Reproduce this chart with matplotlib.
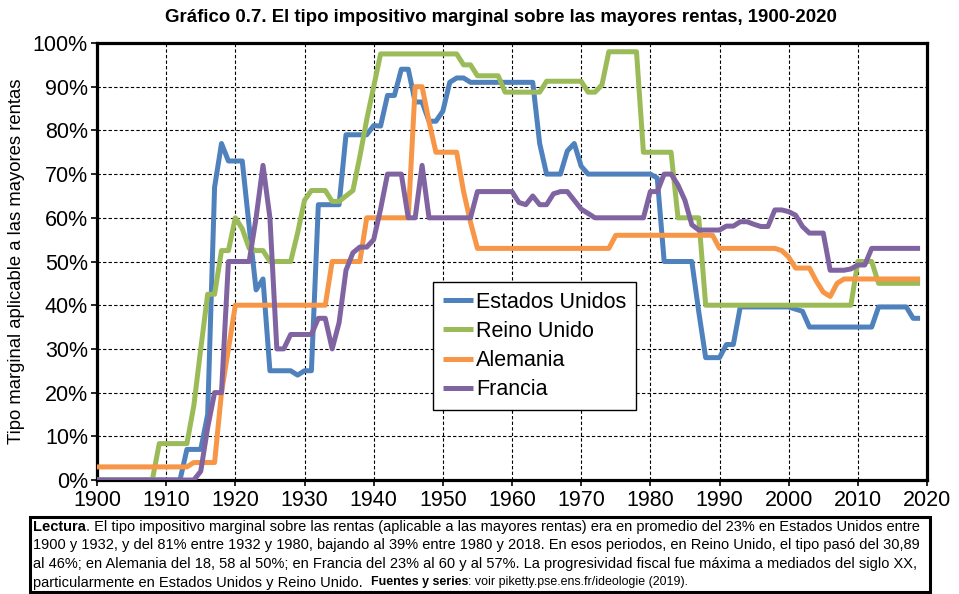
import numpy as np
import matplotlib
matplotlib.use("Agg")
import matplotlib.pyplot as plt
from matplotlib import font_manager
from matplotlib.patches import Rectangle

plt.rcParams['font.family'] = ['Liberation Sans', 'DejaVu Sans']

# ---------------- data (top marginal income tax rate, %) ----------------
years = list(range(1900, 2020))

estados_unidos = [
    0, 0, 0, 0, 0, 0, 0, 0, 0, 0,                      # 1900s
    0, 0, 0, 7, 7, 7, 15, 67, 77, 73,                  # 1910s
    73, 73, 58, 43.5, 46, 25, 25, 25, 25, 24,          # 1920s
    25, 25, 63, 63, 63, 63, 79, 79, 79, 79,            # 1930s
    81.1, 81, 88, 88, 94, 94, 86.5, 86.5, 82.1, 82.1,  # 1940s
    84.4, 91, 92, 92, 91, 91, 91, 91, 91, 91,          # 1950s
    91, 91, 91, 91, 77, 70, 70, 70, 75.3, 77,          # 1960s
    71.8, 70, 70, 70, 70, 70, 70, 70, 70, 70,          # 1970s
    70, 69.1, 50, 50, 50, 50, 50, 38.5, 28, 28,        # 1980s
    28, 31, 31, 39.6, 39.6, 39.6, 39.6, 39.6, 39.6, 39.6,  # 1990s
    39.6, 39.1, 38.6, 35, 35, 35, 35, 35, 35, 35,      # 2000s
    35, 35, 35, 39.6, 39.6, 39.6, 39.6, 39.6, 37, 37,  # 2010s
]

reino_unido = [
    0, 0, 0, 0, 0, 0, 0, 0, 0, 8.33,
    8.33, 8.33, 8.33, 8.33, 17, 30, 42.5, 42.5, 52.5, 52.5,
    60, 57.5, 53, 52.5, 52.5, 50, 50, 50, 50, 56.5,
    64, 66.25, 66.25, 66.25, 63.75, 63.75, 65, 66.25, 74, 82.5,
    90, 97.5, 97.5, 97.5, 97.5, 97.5, 97.5, 97.5, 97.5, 97.5,
    97.5, 97.5, 97.5, 95, 95, 92.5, 92.5, 92.5, 92.5, 88.75,
    88.75, 88.75, 88.75, 88.75, 88.75, 91.25, 91.25, 91.25, 91.25, 91.25,
    91.25, 88.75, 88.75, 90.4, 98, 98, 98, 98, 98, 75,
    75, 75, 75, 75, 60, 60, 60, 60, 40, 40,
    40, 40, 40, 40, 40, 40, 40, 40, 40, 40,
    40, 40, 40, 40, 40, 40, 40, 40, 40, 40,
    50, 50, 50, 45, 45, 45, 45, 45, 45, 45,
]

alemania = [
    3, 3, 3, 3, 3, 3, 3, 3, 3, 3,
    3, 3, 3, 3, 4, 4, 4, 4, 20, 30,
    40, 40, 40, 40, 40, 40, 40, 40, 40, 40,
    40, 40, 40, 40, 50, 50, 50, 50, 50, 60,
    60, 60, 60, 60, 60, 60, 90, 90, 82, 75,
    75, 75, 75, 66, 59, 53, 53, 53, 53, 53,
    53, 53, 53, 53, 53, 53, 53, 53, 53, 53,
    53, 53, 53, 53, 53, 56, 56, 56, 56, 56,
    56, 56, 56, 56, 56, 56, 56, 56, 56, 56,
    53, 53, 53, 53, 53, 53, 53, 53, 53, 52.5,
    51, 48.5, 48.5, 48.5, 45.5, 43, 42, 45, 46, 46,
    46, 46, 46, 46, 46, 46, 46, 46, 46, 46,
]

francia = [
    0, 0, 0, 0, 0, 0, 0, 0, 0, 0,
    0, 0, 0, 0, 0, 2, 12, 20, 20, 50,
    50, 50, 50, 60, 72, 60, 30, 30, 33.3, 33.3,
    33.3, 33.3, 37, 37, 30, 36, 48, 52, 53.3, 53.3,
    55, 62, 70, 70, 70, 60, 60, 72, 60, 60,
    60, 60, 60, 60, 60, 66, 66, 66, 66, 66,
    66, 63.5, 63, 65, 63, 63, 65.5, 66, 66, 64,
    62, 61, 60, 60, 60, 60, 60, 60, 60, 60,
    66, 66, 70, 70, 67.5, 64, 58.4, 57.2, 57.2, 57.2,
    57.2, 58.1, 58.1, 59.1, 59.1, 58.5, 58, 58, 61.8, 61.8,
    61.4, 60.6, 58, 56.5, 56.5, 56.5, 48, 48, 48, 48.3,
    49.2, 49.2, 53, 53, 53, 53, 53, 53, 53, 53,
]

series_names = ["Estados Unidos", "Reino Unido", "Alemania", "Francia"]
series_values = [estados_unidos, reino_unido, alemania, francia]
series_colors = ["#4F81BD", "#9BBB59", "#F79646", "#8064A2"]

x_ticks = list(range(1900, 2021, 10))
y_ticks = list(range(0, 101, 10))

title = "Gráfico 0.7. El tipo impositivo marginal sobre las mayores rentas, 1900-2020"
y_label = "Tipo marginal aplicable a las mayores rentas"

# ---------------- figure ----------------
W, H = 959, 594
fig = plt.figure(figsize=(W / 100, H / 100), dpi=100)
fig.patch.set_facecolor("white")

def fx(px):
    return px / W

def fy(py):
    return 1 - py / H

ax = fig.add_axes([fx(97), fy(480), fx(927) - fx(97), fy(43) - fy(480)])

for name, vals, col in zip(series_names, series_values, series_colors):
    ax.plot(years, vals, color=col, lw=3.6, label=name,
            solid_joinstyle="round", solid_capstyle="butt", zorder=3)

ax.set_xlim(1900, 2020)
ax.set_ylim(0, 100)
ax.set_xticks(x_ticks)
ax.set_yticks(y_ticks)
ax.set_yticklabels([f"{v}%" for v in y_ticks])
ax.tick_params(axis="both", labelsize=15.5, length=4.5, width=1.2,
               direction="out", color="black")
ax.tick_params(axis="y", pad=2)
ax.tick_params(axis="x", pad=3)
ax.grid(True, color="black", linestyle=(0, (3, 2)), linewidth=0.8, zorder=1)
ax.set_axisbelow(True)
for sp in ax.spines.values():
    sp.set_linewidth(2.3)
    sp.set_color("black")

leg = ax.legend(loc="lower left", bbox_to_anchor=(0.405, 0.16),
                borderaxespad=0, fontsize=15.5, handlelength=1.4,
                handletextpad=0.15, labelspacing=0.38, borderpad=0.45,
                fancybox=False, framealpha=1, edgecolor="black")
leg.get_frame().set_linewidth(1.0)

fig.text(fx(501), fy(18), title, ha="center", va="center",
         fontsize=13.4, fontweight="bold")
fig.text(fx(17), (fy(43) + fy(480)) / 2, y_label, rotation=90,
         ha="center", va="center", fontsize=13.3)

# ---------------- bottom note ----------------
fig.patches.append(Rectangle((fx(30), fy(592)), fx(930) - fx(30), fy(517) - fy(592),
                             transform=fig.transFigure, fill=False,
                             edgecolor="black", linewidth=2.2))

available = {f.name for f in font_manager.fontManager.ttflist}
note_family = "Liberation Sans"
for cand in ["Liberation Sans Narrow", "Arial Narrow", "DejaVu Sans Condensed"]:
    if cand in available:
        note_family = cand
        break

note_lines = [
    [("Lectura", "bold", 1.0),
     (". El tipo impositivo marginal sobre las rentas (aplicable a las mayores rentas) era en promedio del 23% en Estados Unidos entre", "normal", 1.0)],
    [("1900 y 1932, y del 81% entre 1932 y 1980, bajando al 39% entre 1980 y 2018. En esos periodos, en Reino Unido, el tipo pasó del 30,89", "normal", 1.0)],
    [("al 46%; en Alemania del 18, 58 al 50%; en Francia del 23% al 60 y al 57%. La progresividad fiscal fue máxima a mediados del siglo XX,", "normal", 1.0)],
    [("particularmente en Estados Unidos y Reino Unido.", "normal", 1.0),
     ("GAP", None, 8),
     ("Fuentes y series", "bold", 0.85),
     (": voir piketty.pse.ens.fr/ideologie (2019).", "normal", 0.85)],
]

renderer = fig.canvas.get_renderer()
probe = fig.text(0, 0, note_lines[1][0][0], fontsize=10, family=note_family)
w_probe = probe.get_window_extent(renderer).width
probe.remove()
note_size = 10 * 880 / w_probe

line_y = [527, 545.5, 564, 582.5]
for segs, yy in zip(note_lines, line_y):
    x = 33
    for text, weight, sc in segs:
        if weight is None:
            x += sc
            continue
        t = fig.text(fx(x), fy(yy), text, ha="left", va="center",
                     fontsize=note_size * sc, fontweight=weight,
                     family=note_family)
        x += t.get_window_extent(renderer).width

fig.savefig("out.png", dpi=100, facecolor="white")
